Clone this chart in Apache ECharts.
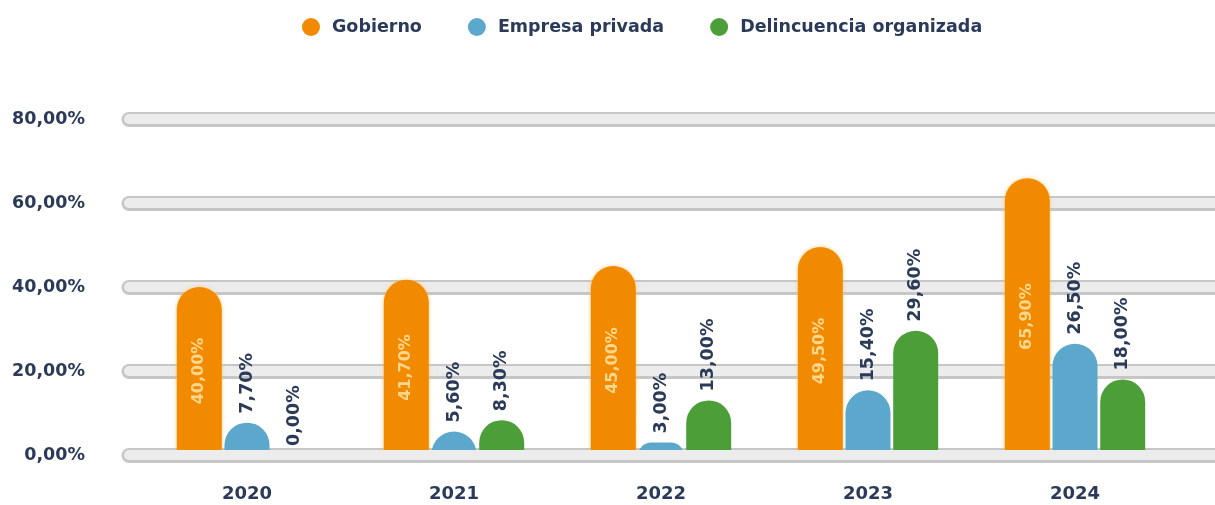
<!DOCTYPE html>
<html>
<head>
<meta charset="utf-8">
<script src="https://cdn.jsdelivr.net/npm/echarts@6/dist/echarts.min.js"></script>
<style>
html,body{margin:0;padding:0;background:#fff;}
#chart{width:1215px;height:505px;}
</style>
</head>
<body>
<div id="chart"></div>
<script>
var categories = ['2020', '2021', '2022', '2023', '2024'];
var gobierno = [40.0, 41.7, 45.0, 49.5, 65.9];
var empresaPrivada = [7.7, 5.6, 3.0, 15.4, 26.5];
var delincuencia = [0.0, 8.3, 13.0, 29.6, 18.0];
var seriesNames = ['Gobierno', 'Empresa privada', 'Delincuencia organizada'];
var yTicks = [0, 20, 40, 60, 80];

var FONT = 'DejaVu Sans';
var NAVY = '#2a3a58';
function fmt(v) { return v.toFixed(2).replace('.', ',') + '%'; }

var chart = echarts.init(document.getElementById('chart'));

var topLabel = {
  show: true, position: 'top', rotate: 90, align: 'left', verticalAlign: 'middle',
  distance: 9, color: NAVY, fontFamily: FONT, fontWeight: 'bold', fontSize: 17.5,
  formatter: function (p) { return fmt(p.value); }
};

var option = {
  animation: false,
  backgroundColor: '#ffffff',
  legend: {
    top: 13, left: 297,
    icon: 'circle', itemWidth: 18, itemHeight: 18, itemGap: 46,
    textStyle: { color: NAVY, fontFamily: FONT, fontWeight: 'bold', fontSize: 17.5, padding: [0, 0, 0, 7] },
    data: seriesNames
  },
  grid: [
    { left: 129, right: -30, top: 119, bottom: 50 },
    { left: 143.5, right: 36.5, top: 119, bottom: 50 }
  ],
  xAxis: [
    { gridIndex: 0, type: 'category', data: categories, show: false },
    {
      gridIndex: 1, type: 'category', data: categories, position: 'bottom', z: 6,
      axisLine: { show: true, lineStyle: { color: '#ececec', width: 10 } },
      axisTick: { show: false },
      axisLabel: { color: NAVY, fontFamily: FONT, fontWeight: 'bold', fontSize: 18, margin: 30 }
    }
  ],
  yAxis: [
    {
      gridIndex: 0, type: 'value', min: 0, max: 80, interval: 20, z: 0,
      axisLine: { show: false }, axisTick: { show: false },
      axisLabel: {
        color: NAVY, fontFamily: FONT, fontWeight: 'bold', fontSize: 17.5, margin: 44,
        formatter: function (v) { return fmt(v); }
      },
      splitLine: { show: true, lineStyle: { color: '#c6c6c6', width: 15, cap: 'round' } }
    },
    {
      gridIndex: 0, type: 'value', min: 0, max: 80, interval: 20, z: 1,
      axisLine: { show: false }, axisTick: { show: false }, axisLabel: { show: false },
      splitLine: { show: true, lineStyle: { color: '#ececec', width: 10, cap: 'round' } }
    },
    {
      gridIndex: 1, type: 'value', min: 0, max: 80, interval: 20, show: false,
      splitLine: { show: false }
    }
  ],
  series: [
    {
      name: seriesNames[0], type: 'bar', xAxisIndex: 1, yAxisIndex: 2, data: gobierno,
      barWidth: 45, barGap: '6%',
      itemStyle: { color: '#f28a00', borderRadius: [23, 23, 0, 0], shadowColor: 'rgba(255,190,90,0.7)', shadowBlur: 4 },
      label: {
        show: true, position: 'inside', rotate: 90, color: '#ffd88e',
        fontFamily: FONT, fontWeight: 'bold', fontSize: 16,
        formatter: function (p) { return fmt(p.value); }
      }
    },
    {
      name: seriesNames[1], type: 'bar', xAxisIndex: 1, yAxisIndex: 2, data: empresaPrivada,
      barWidth: 45, barGap: '6%',
      itemStyle: { color: '#5ba8cc', borderRadius: [23, 23, 0, 0] },
      label: topLabel
    },
    {
      name: seriesNames[2], type: 'bar', xAxisIndex: 1, yAxisIndex: 2, data: delincuencia,
      barWidth: 45, barGap: '6%',
      itemStyle: { color: '#4c9f38', borderRadius: [23, 23, 0, 0] },
      label: topLabel
    }
  ]
};
chart.setOption(option);
</script>
</body>
</html>
